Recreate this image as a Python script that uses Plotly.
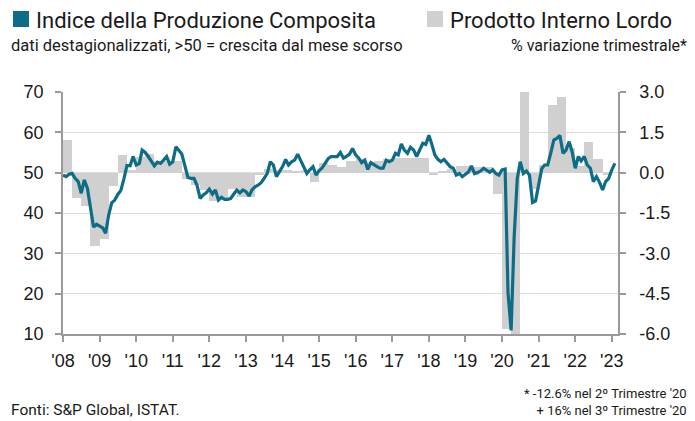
import pandas as pd
import plotly.graph_objects as go

# ---------------- data ----------------
pmi_start = "2008-01-01"
pmi_values = [
    49.4, 49.0, 49.6, 49.8, 48.6, 47.8, 44.9, 48.2, 46.1, 41.6, 36.5, 37.2,   # 2008
    36.8, 36.3, 35.0, 39.5, 42.5, 43.2, 44.6, 45.6, 48.6, 51.8, 51.7, 54.0,   # 2009
    51.9, 52.3, 55.6, 55.0, 54.0, 52.7, 51.7, 52.6, 52.3, 53.1, 54.0, 52.1,   # 2010
    52.7, 56.4, 55.6, 54.6, 51.8, 48.8, 48.6, 48.6, 46.8, 43.6, 44.5, 45.0,   # 2011
    45.9, 44.7, 45.7, 43.2, 43.9, 43.4, 43.4, 43.6, 44.7, 45.7, 45.0, 45.7,   # 2012
    45.3, 44.2, 45.7, 46.5, 46.9, 47.5, 48.6, 49.8, 52.7, 51.9, 49.0, 50.2,   # 2013
    51.5, 53.3, 51.9, 52.7, 53.1, 54.6, 53.0, 51.1, 49.8, 50.7, 51.5, 49.4,   # 2014
    50.5, 51.2, 52.4, 53.5, 54.0, 54.0, 54.0, 55.0, 53.6, 54.0, 54.6, 56.0,   # 2015
    54.4, 53.6, 52.5, 53.1, 50.8, 52.5, 51.9, 51.5, 51.1, 51.1, 53.1, 52.7,   # 2016
    53.1, 54.8, 54.4, 57.1, 55.6, 54.8, 56.3, 55.6, 54.0, 55.5, 57.3, 57.0,   # 2017
    59.3, 56.9, 54.4, 53.3, 52.7, 53.3, 52.5, 51.5, 51.1, 49.4, 49.8, 49.0,   # 2018
    49.6, 50.2, 51.7, 49.8, 50.0, 50.4, 51.1, 50.7, 50.1, 50.7, 49.8, 49.4,   # 2019
    50.7, 50.9, 20.2, 10.9, 33.9, 48.5, 52.7, 49.8, 50.4, 49.4, 42.6, 43.0,   # 2020
    47.2, 51.0, 51.9, 51.9, 54.8, 58.1, 58.5, 59.2, 54.8, 55.6, 57.7, 55.2,   # 2021
    51.1, 54.0, 52.9, 54.0, 51.9, 51.1, 47.8, 49.0, 47.6, 45.7, 47.8, 48.6,   # 2022
    50.7, 52.3,                                                               # 2023
]

gdp_start = "2008-01-01"
gdp_values = [
    1.20, -0.93, -1.25, -2.72,   # 2008
    -2.48, -0.48, 0.65, 0.10,    # 2009
    0.60, 0.70, 0.45, 0.45,      # 2010
    0.45, -0.25, -0.45, -0.65,   # 2011
    -1.05, -1.00, -0.60, -0.90,  # 2012
    -0.90, -0.10, 0.15, 0.10,    # 2013
    0.10, 0.05, 0.10, -0.33,     # 2014
    0.35, 0.30, 0.20, 0.45,      # 2015
    0.50, 0.40, 0.45, 0.50,      # 2016
    0.55, 0.55, 0.55, 0.55,      # 2017
    -0.08, 0.05, 0.15, 0.25,     # 2018
    0.25, 0.20, 0.20, -0.80,     # 2019
    -5.80, -12.6, 16.0, -0.60,   # 2020
    0.30, 2.50, 2.80, 0.90,      # 2021
    0.25, 1.15, 0.50, -0.10,     # 2022
]

year_ticks = list(range(2008, 2024))
year_labels = ["'%02d" % (y % 100) for y in year_ticks]
pmi_ticks = [10, 20, 30, 40, 50, 60, 70]
gdp_ticks = [-6.0, -4.5, -3.0, -1.5, 0.0, 1.5, 3.0]

title_left = "Indice della Produzione Composita"
subtitle_left = "dati destagionalizzati, >50 = crescita dal mese scorso"
title_right = "Prodotto Interno Lordo"
subtitle_right = "% variazione trimestrale*"
source_text = "Fonti: S&P Global, ISTAT."
note_lines = ["* -12.6% nel 2º Trimestre '20", "+ 16% nel 3º Trimestre '20"]

# ---------------- build ----------------
TEAL = "#0d6d87"
GREY_BAR = "#d0d0d0"
AXIS = "#9a9a9a"
GRID = "#dcdcdc"
TICKFONT = dict(family="Liberation Sans, Arial, sans-serif", size=18, color="#1a1a1a")
TXT = "Roboto, Liberation Sans, sans-serif"

# the page body adds an 8px margin, so the figure is 8px smaller and
# all reference pixel positions are shifted by 8px
OFF = 8
W, H = 695 - OFF, 421 - OFF
ML, MT = 63 - OFF, 92 - OFF
MR = W - (618 - OFF)
MB = H - (334 - OFF)
PW, PH = W - ML - MR, H - MT - MB


def px(x):
    return (x - OFF - ML) / PW


def py(y):
    return (H - MB - (y - OFF)) / PH


pmi_dates = pd.date_range(pmi_start, periods=len(pmi_values), freq="MS")
q_start = pd.date_range(gdp_start, periods=len(gdp_values), freq="QS")
q_end = q_start + pd.offsets.QuarterBegin(startingMonth=1)
q_width = [(e - s).total_seconds() * 1000 for s, e in zip(q_start, q_end)]

fig = go.Figure()
fig.add_trace(go.Bar(
    x=q_start, y=gdp_values, width=q_width, offset=0,
    marker=dict(color=GREY_BAR, line=dict(width=0)),
    yaxis="y", hoverinfo="skip", showlegend=False,
))
fig.add_trace(go.Scatter(
    x=pmi_dates, y=pmi_values, mode="lines",
    line=dict(color=TEAL, width=3.2),
    yaxis="y2", showlegend=False,
))

tick_dates = [pd.Timestamp(f"{y}-01-01") for y in year_ticks]

fig.update_layout(
    width=W, height=H,
    margin=dict(l=ML, r=MR, t=MT, b=MB, pad=0),
    paper_bgcolor="white", plot_bgcolor="white",
    bargap=0, showlegend=False,
    xaxis=dict(
        type="date", range=["2008-01-01", "2023-03-04"],
        tickvals=tick_dates, ticktext=year_labels,
        showgrid=False, showline=True, linecolor=AXIS, linewidth=1.5,
        ticks="outside", ticklen=6, tickcolor=AXIS, tickwidth=1.5,
        tickfont=TICKFONT, ticklabelstandoff=4,
    ),
    yaxis=dict(
        side="right", range=[-6.0, 3.0],
        tickvals=gdp_ticks, ticktext=["%.1f" % v for v in gdp_ticks],
        showgrid=True, gridcolor=GRID, gridwidth=1.2, zeroline=False,
        showline=True, linecolor=AXIS, linewidth=1.5,
        ticks="outside", ticklen=6, tickcolor=AXIS, tickwidth=1.5,
        tickfont=TICKFONT, ticklabelstandoff=10,
    ),
    yaxis2=dict(
        overlaying="y", side="left", range=[10, 70],
        tickvals=pmi_ticks,
        showgrid=False, zeroline=False,
        showline=True, linecolor=AXIS, linewidth=1.5,
        ticks="outside", ticklen=6, tickcolor=AXIS, tickwidth=1.5,
        tickfont=TICKFONT, ticklabelstandoff=8,
    ),
)

# legend-like header squares
fig.add_shape(type="rect", xref="paper", yref="paper",
              x0=px(13), x1=px(29), y0=py(27), y1=py(11),
              fillcolor=TEAL, line=dict(width=0))
fig.add_shape(type="rect", xref="paper", yref="paper",
              x0=px(427), x1=px(443), y0=py(27), y1=py(11),
              fillcolor=GREY_BAR, line=dict(width=0))


def text(x, y, s, size, anchor="left", align="left"):
    fig.add_annotation(xref="paper", yref="paper", x=px(x), y=py(y),
                       text=s, showarrow=False, xanchor=anchor, yanchor="middle",
                       align=align, borderpad=0,
                       font=dict(family=TXT, size=size, color="#1a1a1a"))


text(35, 20, title_left, 22)
text(449, 20, title_right, 22)
text(10, 46, subtitle_left, 16.5)
text(688, 46, subtitle_right, 16, anchor="right", align="right")
text(10, 410, source_text, 15.5)
text(688, 402, "<br>".join(note_lines), 13, anchor="right", align="right")

fig.write_html("out.html")
